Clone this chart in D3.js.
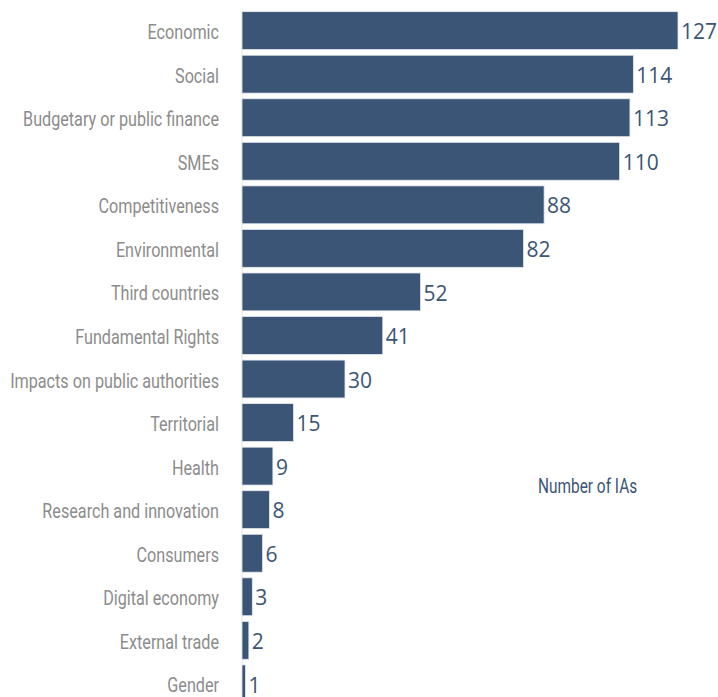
<!DOCTYPE html>
<html>
<head>
<meta charset="utf-8">
<script src="https://cdn.jsdelivr.net/npm/d3@7"></script>
<style>
  body { margin: 0; background: #fff; }
</style>
</head>
<body>
<div id="chart"></div>
<script>
// data
var categories = ["Economic", "Social", "Budgetary or public finance", "SMEs", "Competitiveness",
  "Environmental", "Third countries", "Fundamental Rights", "Impacts on public authorities",
  "Territorial", "Health", "Research and innovation", "Consumers", "Digital economy",
  "External trade", "Gender"];
var counts = [127, 114, 113, 110, 88, 82, 52, 41, 30, 15, 9, 8, 6, 3, 2, 1];
var axisTitle = "Number of IAs";

var width = 718, height = 697;
var barColour = "#3b5576";
var narrowFont = "Roboto, 'DejaVu Sans', sans-serif";

var svg = d3.select("#chart").append("svg")
    .attr("width", width)
    .attr("height", height);

var x = d3.scaleLinear().domain([0, 127]).range([242, 678]);
var y = d3.scaleBand().domain(categories).range([9.5, 705]).paddingInner(0.13).paddingOuter(0.05);

// faint axis line
svg.append("line")
    .attr("x1", x(0)).attr("x2", x(0))
    .attr("y1", y(categories[0])).attr("y2", height)
    .style("stroke", "#e6e6e6")
    .style("stroke-width", 1);

var rows = categories.map(function(c, i){ return {name: c, value: counts[i]}; });

svg.append("g")
  .selectAll("rect")
  .data(rows)
  .enter().append("rect")
    .attr("x", x(0))
    .attr("y", function(d){ return y(d.name); })
    .attr("width", function(d){ return x(d.value) - x(0); })
    .attr("height", y.bandwidth())
    .attr("fill", barColour)
    .style("stroke", "#e4e8ee")
    .style("stroke-width", 0.8);

// category labels - squeezed horizontally to look like a condensed face
var labelG = svg.append("g");
var labels = labelG.selectAll("text")
  .data(rows)
  .enter().append("text")
    .attr("x", 0)
    .attr("y", function(d){ return y(d.name) + y.bandwidth() / 2 + 3; })
    .attr("text-anchor", "end")
    .attr("dominant-baseline", "middle")
    .style("font-family", narrowFont)
    .style("font-size", "21px")
    .style("fill", "#8c8c8c")
    .text(function(d){ return d.name; });

var longest = 0;
labels.each(function(){ longest = Math.max(longest, this.getComputedTextLength()); });
var squeeze = 209 / longest;
labelG.attr("transform", "translate(219,0) scale(" + squeeze + ",1)");

// value labels
svg.append("g")
  .selectAll("text")
  .data(rows)
  .enter().append("text")
    .attr("x", function(d){ return x(d.value) + 3; })
    .attr("y", function(d){ return y(d.name) + y.bandwidth() / 2 + 3; })
    .attr("dominant-baseline", "middle")
    .style("font-family", "'Open Sans', sans-serif")
    .style("font-size", "21px")
    .style("fill", barColour)
    .text(function(d){ return d.value; });

var titleG = svg.append("g")
    .attr("transform", "translate(538,0) scale(" + squeeze + ",1)");
titleG.append("text")
    .attr("x", 0)
    .attr("y", 488)
    .attr("dominant-baseline", "middle")
    .style("font-family", narrowFont)
    .style("font-size", "20px")
    .style("fill", barColour)
    .text(axisTitle);
</script>
</body>
</html>
